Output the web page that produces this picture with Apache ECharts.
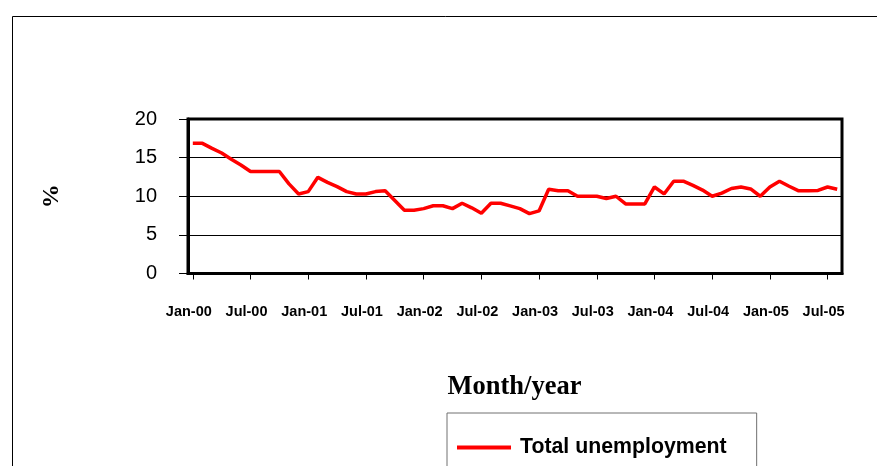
<!DOCTYPE html>
<html>
<head>
<meta charset="utf-8">
<script src="https://cdn.jsdelivr.net/npm/echarts@6/dist/echarts.min.js"></script>
<style>html,body{margin:0;padding:0;background:#fff}#c{width:877px;height:466px}</style>
</head>
<body>
<div id="c"></div>
<script>
var months = ['Jan','Feb','Mar','Apr','May','Jun','Jul','Aug','Sep','Oct','Nov','Dec'];
var years = ['00','01','02','03','04','05'];
var categories = [];
for (var y = 0; y < years.length; y++) {
  for (var m = 0; m < 12; m++) {
    if (y === 5 && m > 7) break;
    categories.push(months[m] + '-' + years[y]);
  }
}
var seriesName = 'Total unemployment';
var unemployment = [
  16.85, 16.85, 16.2, 15.6, 14.8, 14.05, 13.2, 13.2, 13.2, 13.2,
  11.6, 10.3, 10.6, 12.45, 11.8, 11.25, 10.6, 10.3, 10.3, 10.6,
  10.7, 9.45, 8.2, 8.2, 8.4, 8.77, 8.77, 8.4, 9.1, 8.5,
  7.8, 9.1, 9.1, 8.75, 8.4, 7.75, 8.1, 10.9, 10.7, 10.7,
  10.0, 10.0, 10.0, 9.7, 10.0, 9.0, 9.0, 9.0, 11.2, 10.3,
  11.95, 11.95, 11.4, 10.8, 10.0, 10.4, 11.0, 11.2, 10.95, 10.0,
  11.2, 11.95, 11.3, 10.7, 10.7, 10.75, 11.2, 10.9
];
var yTicks = [0, 5, 10, 15, 20];
var yTitle = '%';
var xTitle = 'Month/year';

var chart = echarts.init(document.getElementById('c'), null, {renderer: 'canvas'});
chart.setOption({
  animation: false,
  backgroundColor: '#fff',
  grid: {left: 188, right: 35, top: 119, bottom: 192.5, show: true, borderColor: '#000', borderWidth: 3, containLabel: false},
  graphic: [
    {type: 'rect', shape: {x: 12.5, y: 16.5, width: 900, height: 500}, style: {fill: 'none', stroke: '#000', lineWidth: 1}, silent: true, z: -1},
    {type: 'text', x: 514.5, y: 387, style: {text: xTitle, font: 'bold 26.5px "Liberation Serif", "Times New Roman", serif', fill: '#000', textAlign: 'center', textVerticalAlign: 'middle'}}
  ],
  xAxis: {
    type: 'category',
    data: categories,
    boundaryGap: true,
    axisLine: {lineStyle: {color: '#000', width: 3}},
    axisTick: {show: true, interval: 5, alignWithLabel: true, length: 6, lineStyle: {color: '#000', width: 1}},
    axisLabel: {interval: 5, margin: 31, padding: [0, 8, 0, 0], color: '#000', fontFamily: '"Liberation Sans", Arial, sans-serif', fontWeight: 'bold', fontSize: 14.5},
    splitLine: {show: false}
  },
  yAxis: {
    type: 'value',
    min: yTicks[0],
    max: yTicks[yTicks.length - 1],
    interval: yTicks[1] - yTicks[0],
    name: yTitle,
    nameLocation: 'middle',
    nameRotate: 90,
    nameGap: 124,
    nameTextStyle: {fontFamily: '"Liberation Serif", "Times New Roman", serif', fontWeight: 'bold', fontSize: 24, color: '#000'},
    axisLine: {show: true, lineStyle: {color: '#000', width: 3}},
    axisTick: {show: true, inside: false, length: 9, lineStyle: {color: '#000', width: 1}},
    axisLabel: {margin: 31, color: '#000', fontFamily: '"Liberation Sans", Arial, sans-serif', fontSize: 20},
    splitLine: {show: true, lineStyle: {color: '#000', width: 1}}
  },
  legend: {
    show: true,
    left: 447,
    top: 413,
    orient: 'vertical',
    padding: [24, 30, 30, 10],
    borderColor: '#707070',
    borderWidth: 1,
    backgroundColor: '#fff',
    itemWidth: 54,
    itemHeight: 4,
    itemGap: 10,
    icon: 'rect',
    textStyle: {fontFamily: '"Liberation Sans", Arial, sans-serif', fontWeight: 'bold', fontSize: 21.3, color: '#000', padding: [0, 0, 0, 4]},
    data: [seriesName]
  },
  series: [{
    name: seriesName,
    type: 'line',
    data: unemployment,
    showSymbol: false,
    symbol: 'none',
    lineStyle: {color: '#ff0000', width: 3.5},
    itemStyle: {color: '#ff0000'}
  }]
});
</script>
</body>
</html>
